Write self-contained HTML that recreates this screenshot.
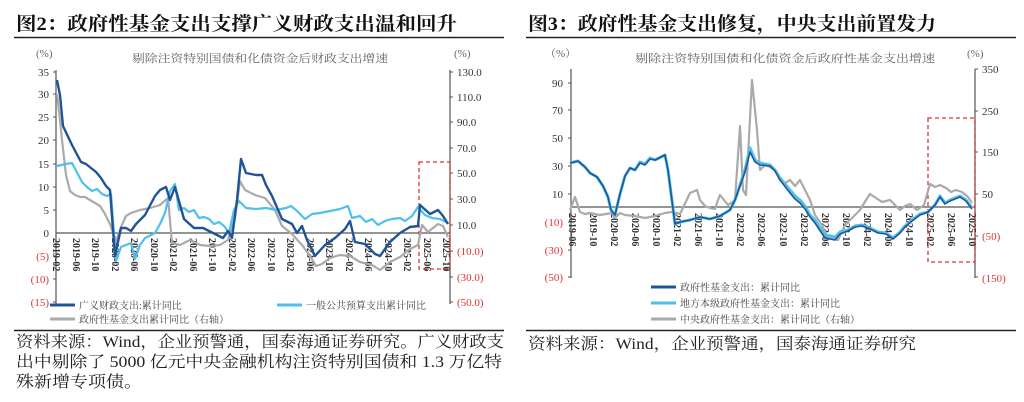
<!DOCTYPE html>
<html><head><meta charset="utf-8"><style>
html,body{margin:0;padding:0;background:#fff;}
svg{display:block;}
.t{font-family:"Liberation Serif","Noto Serif CJK SC",serif;}
.s{font-family:"Liberation Serif","Noto Serif CJK SC",serif;}
</style></head><body>
<svg width="1024" height="402" viewBox="0 0 1024 402" xmlns="http://www.w3.org/2000/svg">
<rect width="1024" height="402" fill="#fff"/>
<!-- Titles -->
<text class="t" x="16" y="30" font-size="19" font-weight="bold" fill="#111" textLength="441" lengthAdjust="spacingAndGlyphs">图2：政府性基金支出支撑广义财政支出温和回升</text>
<text class="t" x="528" y="30" font-size="19" font-weight="bold" fill="#111" textLength="408" lengthAdjust="spacingAndGlyphs">图3：政府性基金支出修复，中央支出前置发力</text>
<line x1="14" y1="37.5" x2="504" y2="37.5" stroke="#222" stroke-width="1.5"/>
<line x1="526" y1="37.5" x2="1016" y2="37.5" stroke="#222" stroke-width="1.5"/>
<line x1="14" y1="330.5" x2="504" y2="330.5" stroke="#222" stroke-width="1.5"/>
<line x1="526" y1="330.5" x2="1016" y2="330.5" stroke="#222" stroke-width="1.5"/>

<g class="s" font-size="11" fill="#666">
<text x="132" y="62" textLength="256" lengthAdjust="spacingAndGlyphs">剔除注资特别国债和化债资金后财政支出增速</text>
<text x="36" y="57">(%)</text><text x="454" y="57">(%)</text>
<text x="635" y="62" textLength="300" lengthAdjust="spacingAndGlyphs">剔除注资特别国债和化债资金后政府性基金支出增速</text>
<text x="545" y="57">（%）</text><text x="967" y="57">(%)</text>
</g>

<!-- LEFT CHART axes -->
<g stroke="#555" stroke-width="1.2" fill="none">
<line x1="56" y1="70" x2="56" y2="304"/>
<line x1="450" y1="70" x2="450" y2="304"/>
<line x1="56" y1="233" x2="450" y2="233"/>
</g>
<g stroke="#555" stroke-width="1">
<path d="M53 72H56M53 94H56M53 117H56M53 140H56M53 164H56M53 187H56M53 210H56M53 256H56M53 279H56M53 302H56"/>
<path d="M450 72H453M450 97H453M450 122H453M450 148H453M450 173H453M450 199H453M450 225H453M450 251H453M450 277H453M450 302H453"/>
</g>
<g class="s" font-size="11" text-anchor="end" fill="#333">
<text x="49" y="76">35</text><text x="49" y="98">30</text><text x="49" y="121">25</text><text x="49" y="144">20</text><text x="49" y="168">15</text><text x="49" y="191">10</text><text x="49" y="214">5</text><text x="49" y="237">0</text>
<text x="49" y="260" fill="#d33">(5)</text><text x="49" y="283" fill="#d33">(10)</text><text x="49" y="306" fill="#d33">(15)</text>
</g>
<g class="s" font-size="11" fill="#333">
<text x="457" y="76">130.0</text><text x="457" y="101">110.0</text><text x="457" y="126">90.0</text><text x="457" y="152">70.0</text><text x="457" y="177">50.0</text><text x="457" y="203">30.0</text><text x="457" y="229">10.0</text>
<text x="457" y="255" fill="#d33">(10.0)</text><text x="457" y="281" fill="#d33">(30.0)</text><text x="457" y="306" fill="#d33">(50.0)</text>
</g>
<g class="s" font-size="10" font-weight="bold" fill="#333">
<text transform="translate(53,238) rotate(90)">2019-02</text>
<text transform="translate(73,238) rotate(90)">2019-06</text>
<text transform="translate(92,238) rotate(90)">2019-10</text>
<text transform="translate(112,238) rotate(90)">2020-02</text>
<text transform="translate(131,238) rotate(90)">2020-06</text>
<text transform="translate(151,238) rotate(90)">2020-10</text>
<text transform="translate(170,238) rotate(90)">2021-02</text>
<text transform="translate(190,238) rotate(90)">2021-06</text>
<text transform="translate(209,238) rotate(90)">2021-10</text>
<text transform="translate(229,238) rotate(90)">2022-02</text>
<text transform="translate(248,238) rotate(90)">2022-06</text>
<text transform="translate(268,238) rotate(90)">2022-10</text>
<text transform="translate(287,238) rotate(90)">2023-02</text>
<text transform="translate(307,238) rotate(90)">2023-06</text>
<text transform="translate(326,238) rotate(90)">2023-10</text>
<text transform="translate(346,238) rotate(90)">2024-02</text>
<text transform="translate(365,238) rotate(90)">2024-06</text>
<text transform="translate(385,238) rotate(90)">2024-10</text>
<text transform="translate(404,238) rotate(90)">2025-02</text>
<text transform="translate(424,238) rotate(90)">2025-06</text>
<text transform="translate(443,238) rotate(90)">2025-10</text>
</g>
<rect x="419" y="162" width="31" height="107" fill="none" stroke="#d33" stroke-width="1.3" stroke-dasharray="4,3"/>
<g fill="none" stroke-linejoin="round">
<polyline stroke="#aaa" stroke-width="2.2" points="57,94 60,120 62,140 66,175 70,191 75,195 80,197 85,197 90,200 95,203 100,206 105,214 110,224 116,241 121,227 126,216 131,213 140,210 150,208 160,205 168,198 172,243 180,245 190,240 200,245 210,246 220,245 228,240 235,218 240,181 245,190 255,195 265,198 275,210 282,226 292,234 302,245 310,256 316,266 322,264 330,258 340,255 350,256 360,262 372,265 380,270 390,262 400,257 410,249 418,245 422,225 428,232 438,224 443,226 448,237"/>
<polyline stroke="#4fc0ec" stroke-width="2.2" points="57,166 66,164 72,163 82,182 87,187 92,191 97,189 102,194 107,196 111,194 116,261 121,247 126,245 131,243 135,259 140,245 145,238 155,233 160,224 165,213 170,191 175,184 179,210 184,208 189,212 194,210 199,218 204,217 209,219 214,224 219,222 224,226 229,233 234,210 239,201 246,208 256,209 266,208 276,210 286,208 291,206 296,210 305,219 312,214 320,213 330,211 340,209 348,206 352,218 360,216 366,222 372,219 378,225 385,221 392,219 400,218 405,221 412,216 418,207 425,215 432,218 440,219 448,223"/>
<polyline stroke="#1f5597" stroke-width="2.4" points="57,80 60,95 63,126 72,145 81,162 86,164 96,172 101,178 106,186 110,190 115,256 121,228 126,228 131,231 136,224 145,215 155,196 160,190 166,187 170,200 175,187 184,219 194,228 203,228 213,233 223,238 228,231 232,238 237,200 241,159 246,173 256,175 262,175 266,185 272,196 282,219 292,224 297,233 302,226 307,240 315,256 325,245 335,238 345,229 350,221 355,242 365,244 375,254 380,256 390,242 400,233 410,227 418,226 420,205 430,214 438,210 443,216 448,224"/>
</g>
<!-- left legend -->
<line x1="50" y1="305" x2="75" y2="305" stroke="#1f5597" stroke-width="3"/>
<line x1="277" y1="305" x2="302" y2="305" stroke="#4fc0ec" stroke-width="3"/>
<line x1="50" y1="319" x2="75" y2="319" stroke="#aaa" stroke-width="3"/>
<g class="s" font-size="10" fill="#444">
<text x="79" y="309">广义财政支出:累计同比</text>
<text x="306" y="309">一般公共预算支出累计同比</text>
<text x="79" y="323">政府性基金支出累计同比（右轴）</text>
</g>

<!-- RIGHT CHART -->
<g stroke="#555" stroke-width="1.2" fill="none">
<line x1="571" y1="69" x2="571" y2="278"/>
<line x1="975" y1="69" x2="975" y2="278"/>
<line x1="571" y1="207" x2="975" y2="207"/>
</g>
<g stroke="#555" stroke-width="1">
<path d="M568 83H571M568 110H571M568 138H571M568 166H571M568 194H571M568 222H571M568 250H571M568 277H571"/>
<path d="M975 69H978M975 111H978M975 152H978M975 194H978M975 236H978M975 277H978"/>
</g>
<g class="s" font-size="11" text-anchor="end" fill="#333">
<text x="563" y="87">90</text><text x="563" y="114">70</text><text x="563" y="142">50</text><text x="563" y="170">30</text><text x="563" y="198">10</text>
<text x="563" y="226" fill="#d33">(10)</text><text x="563" y="254" fill="#d33">(30)</text><text x="563" y="281" fill="#d33">(50)</text>
</g>
<g class="s" font-size="11" fill="#333">
<text x="982" y="73">350</text><text x="982" y="115">250</text><text x="982" y="156">150</text><text x="982" y="198">50</text>
<text x="982" y="240" fill="#d33">(50)</text><text x="982" y="282" fill="#d33">(150)</text>
</g>
<g class="s" font-size="10" font-weight="bold" fill="#333">
<text transform="translate(569,213) rotate(90)">2019-06</text>
<text transform="translate(590,213) rotate(90)">2019-10</text>
<text transform="translate(611,213) rotate(90)">2020-02</text>
<text transform="translate(632,213) rotate(90)">2020-06</text>
<text transform="translate(653,213) rotate(90)">2020-10</text>
<text transform="translate(674,213) rotate(90)">2021-02</text>
<text transform="translate(695,213) rotate(90)">2021-06</text>
<text transform="translate(716,213) rotate(90)">2021-10</text>
<text transform="translate(737,213) rotate(90)">2022-02</text>
<text transform="translate(758,213) rotate(90)">2022-06</text>
<text transform="translate(780,213) rotate(90)">2022-10</text>
<text transform="translate(801,213) rotate(90)">2023-02</text>
<text transform="translate(822,213) rotate(90)">2023-06</text>
<text transform="translate(843,213) rotate(90)">2023-10</text>
<text transform="translate(864,213) rotate(90)">2024-02</text>
<text transform="translate(885,213) rotate(90)">2024-06</text>
<text transform="translate(906,213) rotate(90)">2024-10</text>
<text transform="translate(927,213) rotate(90)">2025-02</text>
<text transform="translate(948,213) rotate(90)">2025-06</text>
<text transform="translate(969,213) rotate(90)">2025-10</text>
</g>
<rect x="928" y="118" width="47" height="144" fill="none" stroke="#d33" stroke-width="1.3" stroke-dasharray="4,3"/>
<g fill="none" stroke-linejoin="round">
<polyline stroke="#aaa" stroke-width="2.2" points="570,210 575,197 580,212 585,214 590,213 600,215 612,213 615,218 620,213 625,215 635,216 645,218 655,216 665,213 672,212 680,214 690,193 697,190 700,200 705,206 710,208 715,209 718,200 720,195 728,205 735,200 740,126 743,190 746,195 752,80 757,130 760,170 765,165 770,167 775,170 780,180 785,183 790,180 795,186 800,180 805,190 810,200 815,215 822,225 828,238 838,240 845,225 852,218 860,210 866,200 870,194 876,198 882,202 890,200 895,205 900,210 905,206 910,204 917,210 924,205 930,184 935,187 940,185 946,188 951,192 956,190 962,192 968,197 972,203"/>
<polyline stroke="#4fc0ec" stroke-width="3" points="570,163 578,161 585,167 590,173 597,177 603,186 608,197 611,210 615,215 620,194 625,176 630,168 635,170 640,162 645,164 650,158 655,160 665,155 668,170 675,224 680,222 690,220 700,217 710,219 720,216 730,210 735,200 740,185 745,170 750,148 755,160 760,163 770,165 775,170 780,178 790,190 795,196 800,200 805,206 810,215 815,220 825,235 835,237 840,232 848,230 855,226 862,225 870,228 878,232 886,233 893,238 900,232 905,226 912,220 920,214 928,212 935,205 940,196 945,203 950,200 955,198 960,196 966,200 972,208"/>
<polyline stroke="#1f5597" stroke-width="1.6" points="570,163 578,161 585,167 590,173 597,177 603,186 608,197 611,210 615,215 620,194 625,176 630,168 635,170 640,163 645,165 650,159 655,160 665,155 668,170 675,224 680,222 690,220 700,217 710,219 720,216 730,210 735,200 740,186 745,172 750,152 755,162 760,165 770,166 775,171 780,180 790,193 795,199 800,203 805,209 810,217 815,223 825,238 835,240 840,234 848,231 855,227 862,226 870,229 878,233 886,234 893,239 900,233 905,227 912,221 920,215 928,212 935,205 940,197 945,204 950,201 955,199 960,197 966,201 972,209"/>
</g>
<line x1="651" y1="287" x2="676" y2="287" stroke="#1f5597" stroke-width="3"/>
<line x1="651" y1="303" x2="676" y2="303" stroke="#4fc0ec" stroke-width="3"/>
<line x1="651" y1="319" x2="676" y2="319" stroke="#aaa" stroke-width="3"/>
<g class="s" font-size="10" fill="#444">
<text x="680" y="291">政府性基金支出：累计同比</text>
<text x="680" y="307">地方本级政府性基金支出：累计同比</text>
<text x="680" y="323">中央政府性基金支出：累计同比（右轴）</text>
</g>

<!-- sources -->
<g class="s" font-size="16" fill="#222">
<text x="16" y="347" textLength="488" lengthAdjust="spacingAndGlyphs">资料来源：Wind，企业预警通，国泰海通证券研究。广义财政支</text>
<text x="16" y="367" textLength="486" lengthAdjust="spacingAndGlyphs">出中剔除了 5000 亿元中央金融机构注资特别国债和 1.3 万亿特</text>
<text x="16" y="387" textLength="126" lengthAdjust="spacingAndGlyphs">殊新增专项债。</text>
<text x="528" y="349" textLength="388" lengthAdjust="spacingAndGlyphs">资料来源：Wind，企业预警通，国泰海通证券研究</text>
</g>
</svg>
</body></html>
